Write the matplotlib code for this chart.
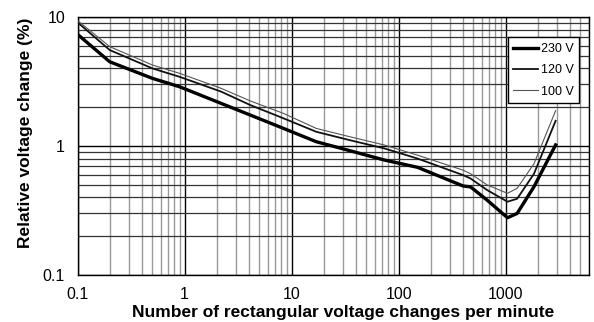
import numpy as np
import matplotlib
matplotlib.use('Agg')
import matplotlib.pyplot as plt
from matplotlib.ticker import LogLocator, FixedLocator, NullFormatter

plt.rcParams['font.family'] = ['Liberation Sans', 'DejaVu Sans']

# changes per minute
r = [0.1, 0.2, 0.5, 0.9, 2.2, 4.1, 8.4, 17, 35, 73, 150, 400, 470, 670, 1040, 1280, 1840, 2930]
# relative voltage change (%) for each supply voltage
dv_230 = [7.35, 4.5, 3.35, 2.88, 2.14, 1.74, 1.37, 1.08, 0.92, 0.78, 0.684, 0.49, 0.482, 0.381, 0.278, 0.30, 0.484, 1.02]
dv_120 = [9.1, 5.55, 4.0, 3.44, 2.64, 2.08, 1.64, 1.29, 1.11, 0.96, 0.80, 0.595, 0.56, 0.456, 0.37, 0.39, 0.61, 1.57]
dv_100 = [9.4, 5.9, 4.25, 3.66, 2.8, 2.24, 1.79, 1.37, 1.18, 1.02, 0.85, 0.65, 0.61, 0.50, 0.43, 0.47, 0.73, 1.88]

labels = ['230 V', '120 V', '100 V']

fig = plt.figure(figsize=(5.94, 3.22), dpi=100)
ax = fig.add_axes([0.1305, 0.146, 0.861, 0.801])

ax.plot(r, dv_230, color='black', lw=2.4, label=labels[0], zorder=5)
ax.plot(r, dv_120, color='#111111', lw=1.3, label=labels[1], zorder=5)
ax.plot(r, dv_100, color='#555555', lw=0.8, label=labels[2], zorder=5)

ax.set_xscale('log')
ax.set_yscale('log')
ax.set_xlim(0.1, 6000)
ax.set_ylim(0.1, 10)

ax.xaxis.set_major_locator(FixedLocator([0.1, 1, 10, 100, 1000]))
ax.set_xticklabels(['0.1', '1', '10', '100', '1000'])
ax.xaxis.set_minor_locator(LogLocator(base=10, subs=np.arange(2, 10), numticks=20))
ax.xaxis.set_minor_formatter(NullFormatter())
ax.yaxis.set_major_locator(FixedLocator([0.1, 1, 10]))
ax.set_yticklabels(['0.1', '1', '10'])
ax.yaxis.set_minor_locator(LogLocator(base=10, subs=np.arange(2, 10), numticks=20))
ax.yaxis.set_minor_formatter(NullFormatter())

ax.grid(which='major', axis='both', color='black', lw=1.0)
ax.grid(which='minor', axis='x', color='#999999', lw=1.0)
ax.grid(which='minor', axis='y', color='#333333', lw=0.9)
ax.tick_params(which='both', length=0, labelsize=11.5, pad=9)

for s in ax.spines.values():
    s.set_color('black')
    s.set_linewidth(1.0)

ax.set_xlabel('Number of rectangular voltage changes per minute', fontsize=12.5, fontweight='bold')
ax.set_ylabel('Relative voltage change (%)', fontsize=12.5, fontweight='bold')
ax.xaxis.set_label_coords(0.52, -0.115)
ax.yaxis.set_label_coords(-0.088, 0.55)

leg = ax.legend(loc='upper right', bbox_to_anchor=(0.981, 0.921), fontsize=9, fancybox=False,
                framealpha=1, edgecolor='black', handlelength=2.0, handletextpad=0.2,
                borderpad=0.45, labelspacing=0.75, borderaxespad=0)
leg.get_frame().set_linewidth(1.0)
leg.set_zorder(10)

fig.savefig('out.png', dpi=100)
